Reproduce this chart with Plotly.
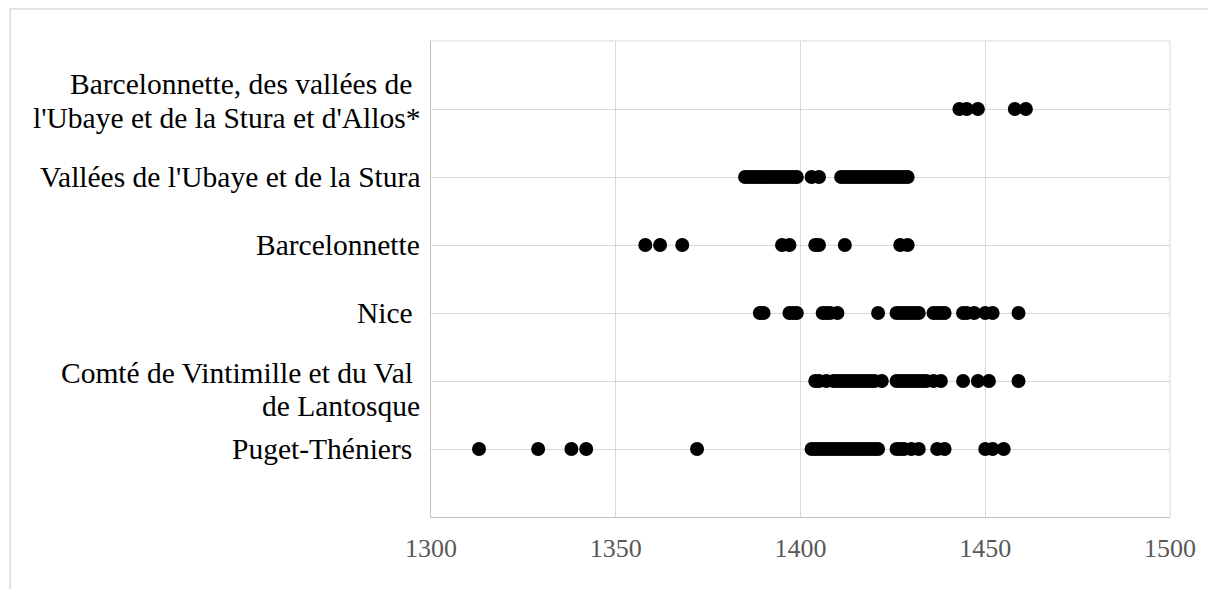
import plotly.graph_objects as go

# Row labels, bottom to top (each entry is the list of wrapped lines)
categories = [
    ["Puget-Théniers\u00a0"],
    ["Comté de Vintimille et du Val\u00a0", "de Lantosque"],
    ["Nice\u00a0"],
    ["Barcelonnette"],
    ["Vallées de l'Ubaye et de la Stura"],
    ["Barcelonnette, des vallées de\u00a0", "l'Ubaye et de la Stura et d'Allos*"],
]

# Years attested for each circonscription
puget_theniers = [1313, 1329, 1338, 1342, 1372, 1403, 1404, 1405, 1406, 1407, 1408,
                  1409, 1410, 1411, 1412, 1413, 1414, 1415, 1416, 1417, 1418, 1419,
                  1420, 1421, 1426, 1427, 1428, 1430, 1432, 1437, 1439, 1450, 1452, 1455]
vintimille_lantosque = [1404, 1405, 1407, 1409, 1410, 1411, 1412, 1413, 1414, 1415, 1416,
                        1417, 1418, 1419, 1420, 1422, 1426, 1427, 1428, 1429, 1430, 1431,
                        1432, 1433, 1434, 1436, 1438, 1444, 1448, 1451, 1459]
nice = [1389, 1390, 1397, 1398, 1399, 1406, 1407, 1408, 1410, 1421, 1426, 1427, 1428,
        1429, 1430, 1431, 1432, 1436, 1437, 1438, 1439, 1444, 1445, 1447, 1450, 1452, 1459]
barcelonnette = [1358, 1362, 1368, 1395, 1397, 1404, 1405, 1412, 1427, 1429]
ubaye_stura = [1385, 1386, 1387, 1388, 1389, 1390, 1391, 1392, 1393, 1394, 1395, 1396,
               1397, 1398, 1399, 1403, 1405, 1411, 1412, 1413, 1414, 1415, 1416, 1417,
               1418, 1419, 1420, 1421, 1422, 1423, 1424, 1425, 1426, 1427, 1428, 1429]
barcelonnette_allos = [1443, 1445, 1448, 1458, 1461]

series = [puget_theniers, vintimille_lantosque, nice, barcelonnette, ubaye_stura,
          barcelonnette_allos]

x_ticks = [1300, 1350, 1400, 1450, 1500]

# vertical placement (px, downward) of each wrapped line relative to its row
line_offsets = {1: [0], 2: [-25, 9]}
line_offsets_lower = [-8, 25]  # the wrapped label of the second row sits lower

xs, ys = [], []
for row, years in enumerate(series, start=1):
    xs.extend(years)
    ys.extend([row] * len(years))

fig = go.Figure(go.Scatter(
    x=xs, y=ys, mode="markers",
    marker=dict(color="black", size=14, line=dict(width=0)),
    hoverinfo="x",
))

serif = "Liberation Serif, Times New Roman, serif"
grid = "#d9d9d9"

annotations = []
for row, lines in enumerate(categories, start=1):
    offsets = line_offsets_lower if row == 2 else line_offsets[len(lines)]
    for text, off in zip(lines, offsets):
        annotations.append(dict(
            text=text, xref="paper", yref="y", x=0, y=row,
            xanchor="right", yanchor="middle", xshift=-9, yshift=-off,
            showarrow=False, font=dict(family=serif, size=29.5, color="black"),
        ))

fig.update_layout(
    width=1208, height=589,
    margin=dict(l=431, r=36, t=41, b=72),
    paper_bgcolor="white", plot_bgcolor="white",
    showlegend=False,
    xaxis=dict(
        range=[1300, 1500], tickmode="array", tickvals=x_ticks,
        ticktext=[str(v) for v in x_ticks],
        showgrid=True, gridcolor=grid, gridwidth=1,
        showline=True, linecolor="#bfbfbf", linewidth=1,
        zeroline=False, ticks="", ticklabelstandoff=8,
        tickfont=dict(family=serif, size=26, color="#595959"),
    ),
    yaxis=dict(
        range=[0, 7], tickmode="array", tickvals=list(range(0, 8)),
        showticklabels=False,
        showgrid=True, gridcolor=grid, gridwidth=1,
        showline=True, linecolor="#bfbfbf", linewidth=1,
        zeroline=False, ticks="",
    ),
    annotations=annotations,
    shapes=[
        # outer chart frame
        dict(type="rect", xref="paper", yref="paper",
             x0=(9 - 431) / 741, x1=(1230 - 431) / 741,
             y0=(517 - 620) / 476, y1=1 + (41 - 9) / 476,
             line=dict(color=grid, width=1.5), fillcolor="rgba(0,0,0,0)",
             layer="below"),
        # closing top and right edges of the plot area
        dict(type="line", xref="paper", yref="paper", x0=0, x1=1, y0=1, y1=1,
             line=dict(color=grid, width=1), layer="below"),
        dict(type="line", xref="paper", yref="paper", x0=1, x1=1, y0=0, y1=1,
             line=dict(color=grid, width=1), layer="below"),
    ],
)

fig.write_html("out.html")
